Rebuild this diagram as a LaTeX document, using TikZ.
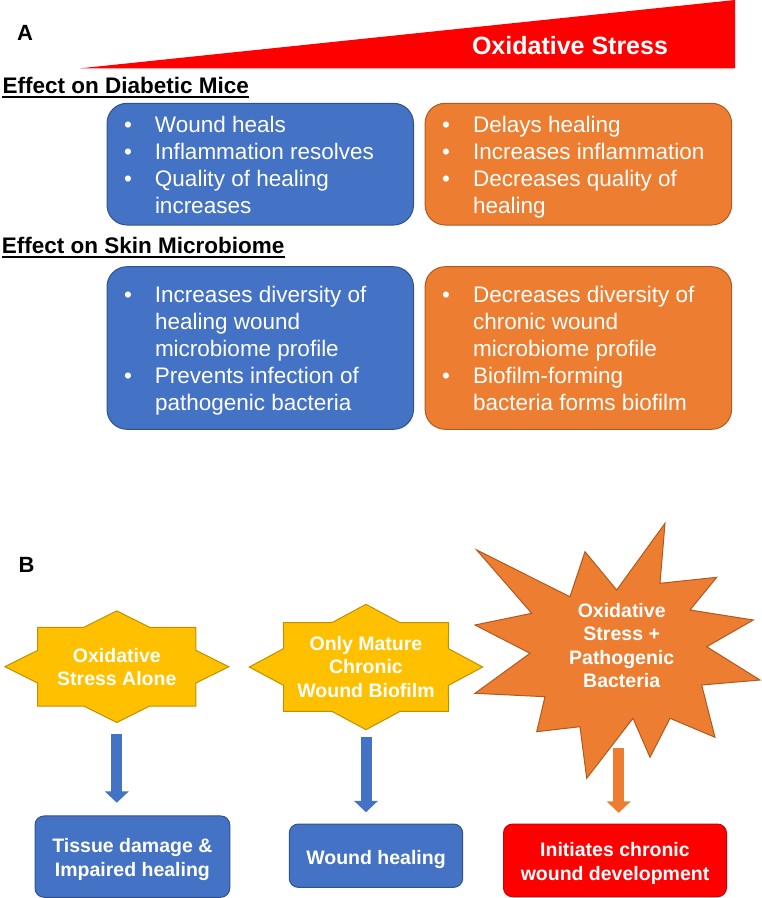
\documentclass[tikz,border=0pt]{standalone}
\usepackage{fontspec}
\setmainfont{Liberation Sans}
\usetikzlibrary{arrows.meta, calc}

\definecolor{boxblue}{HTML}{4472C4}
\definecolor{boxblueline}{HTML}{2F528F}
\definecolor{boxorange}{HTML}{ED7D31}
\definecolor{boxorangeline}{HTML}{AE5A21}
\definecolor{staryellow}{HTML}{FFC000}
\definecolor{staryellowline}{HTML}{BF9000}
\definecolor{stressred}{HTML}{FF0000}
\definecolor{stressredline}{HTML}{D00000}

% 8-point star: centre, x radius, y radius, style
\newcommand{\eightstar}[4]{%
  \draw[#4] ($(#1)+(#2,0)$)
    \foreach \k in {1,...,15}
    {
      -- ($(#1)+({(isodd(\k)?0.765:1)*#2*cos(22.5*\k)},{(isodd(\k)?0.765:1)*#3*sin(22.5*\k)})$)
    } -- cycle;
}
% box text sits a little low
\newcommand{\lowered}[1]{\raisebox{-3.5pt}[\height][\depth]{#1}}

\begin{document}
\begin{tikzpicture}[x=1pt, y=-1pt,
    panel/.style={font=\fontsize{22}{26}\selectfont\bfseries, anchor=base west, inner sep=0pt},
    heading/.style={font=\fontsize{22.5}{27}\selectfont\bfseries, anchor=base west, inner sep=0pt},
    listbox/.style={rounded corners=20pt, line width=1pt, text=white, inner sep=0pt,
        minimum width=306.5pt, font=\fontsize{22.5}{27}\selectfont},
    bluebox/.style={listbox, fill=boxblue, draw=boxblueline},
    orangebox/.style={listbox, fill=boxorange, draw=boxorangeline},
    startext/.style={text=white, align=center, inner sep=0pt, font=\fontsize{19.5}{23.3}\selectfont\bfseries},
    yellowstar/.style={fill=staryellow, draw=staryellowline, line width=1pt},
    orangeburst/.style={fill=boxorange, draw=boxorangeline, line width=1pt},
    resultbox/.style={rounded corners=9pt, line width=1pt, text=white, inner sep=0pt,
        font=\fontsize{19.5}{24}\selectfont\bfseries},
    bluearrow/.style={draw=boxblue, line width=11pt, -{Triangle[length=11.5pt, width=23.5pt]}},
    orangearrow/.style={draw=boxorange, line width=11pt, -{Triangle[length=11.5pt, width=23.5pt]}}
]
    \useasboundingbox (0,0) rectangle (762,898);

    % Panel A
    \node[panel] (pa) at (17,40) {A};
    % Oxidative stress wedge
    \fill[stressred] (80.3,68.3) -- (735,0) -- (735,68.3) -- cycle;
    \node[text=white, inner sep=0pt, font=\fontsize{25}{30}\selectfont\bfseries] (ox) at (570,46) {Oxidative Stress};

    % Effect on diabetic mice
    \node[heading] (h1) at (2.4,93) {Effect on Diabetic Mice};
    \draw[line width=2pt] ([yshift=-3.5pt]h1.base west) -- ([yshift=-3.5pt]h1.base east);
    \node[bluebox, minimum height=121.7pt] (b1) at (260.25,164.15)
    {\lowered{\begin{tabular}{@{}p{31pt}@{}p{241.5pt}@{}}
        \textbullet & Wound heals\\
        \textbullet & Inflammation resolves\\
        \textbullet & Quality of healing\\
                    & increases
    \end{tabular}}};
    \node[orangebox, minimum height=121.7pt] (o1) at (578.35,164.15)
    {\lowered{\begin{tabular}{@{}p{31pt}@{}p{241.5pt}@{}}
        \textbullet & Delays healing\\
        \textbullet & Increases inflammation\\
        \textbullet & Decreases quality of\\
                    & healing
    \end{tabular}}};

    % Effect on skin microbiome
    \node[heading] (h2) at (1.7,253.5) {Effect on Skin Microbiome};
    \draw[line width=2pt] ([yshift=-3.5pt]h2.base west) -- ([yshift=-3.5pt]h2.base east);
    \node[bluebox, minimum height=162.6pt] (b2) at (260.25,348)
    {\lowered{\begin{tabular}{@{}p{31pt}@{}p{241.5pt}@{}}
        \textbullet & Increases diversity of\\
                    & healing wound\\
                    & microbiome profile\\
        \textbullet & Prevents infection of\\
                    & pathogenic bacteria
    \end{tabular}}};
    \node[orangebox, minimum height=162.6pt] (o2) at (578.35,348)
    {\lowered{\begin{tabular}{@{}p{31pt}@{}p{241.5pt}@{}}
        \textbullet & Decreases diversity of\\
                    & chronic wound\\
                    & microbiome profile\\
        \textbullet & Biofilm-forming\\
                    & bacteria forms biofilm
    \end{tabular}}};

    % Panel B
    \node[panel] (pb) at (18.5,572.7) {B};

    % Stars
    \coordinate (c1) at (116.8,666.7);
    \eightstar{c1}{112}{55.8}{yellowstar}
    \node[startext, minimum width=224pt, minimum height=111.6pt] (s1) at (c1) {Oxidative\\Stress Alone};

    \coordinate (c2) at (366,667);
    \eightstar{c2}{116.7}{62.7}{yellowstar}
    \node[startext, minimum width=233.4pt, minimum height=125.4pt] (s2) at (c2) {Only Mature\\Chronic\\Wound Biofilm};

    \draw[orangeburst] (665,523.3) -- (660,583.3) -- (716.7,577.3) -- (690,610) -- (753.3,620)
        -- (706.7,646.7) -- (760,680) -- (701.7,685) -- (715,737.3) -- (670,718.3) -- (650,757.3)
        -- (633,718.3) -- (586.7,778.3) -- (580,726.7) -- (536.7,731.7) -- (545,696.7) -- (475,693.3)
        -- (530,653.3) -- (475,625) -- (531.7,613.3) -- (476.7,550) -- (570,596.7) -- (585,551.7)
        -- (616.7,590) -- cycle;
    \node[startext] (s3) at (621.7,645.4) {Oxidative\\Stress +\\Pathogenic\\Bacteria};
    \coordinate (a3) at (618.7,748.3);

    % Outcomes
    \node[resultbox, fill=boxblue, draw=boxblueline, minimum width=194.7pt, minimum height=81.3pt] (r1)
        at (132.4,856.6) {\lowered{\begin{tabular}{@{}c@{}}Tissue damage \&\\Impaired healing\end{tabular}}};
    \node[resultbox, fill=boxblue, draw=boxblueline, minimum width=173.4pt, minimum height=63.3pt] (r2)
        at (376,855.7) {\lowered{Wound healing}};
    \node[resultbox, fill=stressred, draw=stressredline, minimum width=223pt, minimum height=72.7pt] (r3)
        at (615,860.4) {\lowered{\begin{tabular}{@{}c@{}}Initiates chronic\\wound development\end{tabular}}};

    % Arrows
    \draw[bluearrow, shorten <=10.8pt, shorten >=12.7pt] (s1.south) -- (s1.south |- r1.north);
    \draw[bluearrow, shorten <=7.4pt, shorten >=11.3pt] (s2.south) -- (s2.south |- r2.north);
    \draw[orangearrow, shorten >=10.7pt] (a3) -- (a3 |- r3.north);
\end{tikzpicture}
\end{document}
